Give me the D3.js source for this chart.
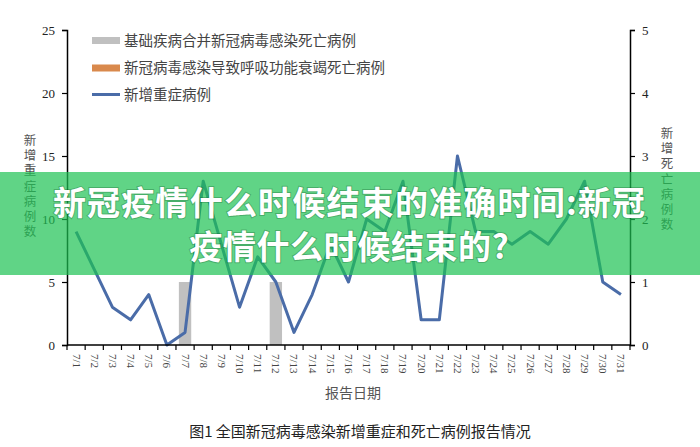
<!DOCTYPE html>
<html>
<head>
<meta charset="utf-8">
<script src="https://cdn.jsdelivr.net/npm/d3@7"></script>
<style>
html,body{margin:0;padding:0;background:#fff;}
svg{display:block;}
</style>
</head>
<body>
<svg id="chart" width="700" height="447"></svg>
<script>
const categories = ["7/1","7/2","7/3","7/4","7/5","7/6","7/7","7/8","7/9","7/10","7/11","7/12","7/13","7/14","7/15","7/16","7/17","7/18","7/19","7/20","7/21","7/22","7/23","7/24","7/25","7/26","7/27","7/28","7/29","7/30","7/31"];
const severeCases = [9,6,3,2,4,0,1,13,8,3,7,5,1,4,8,5,10,9,13,2,2,15,9,9,8,9,8,10,13,5,4];
const deathsUnderlying = [0,0,0,0,0,0,1,0,0,0,0,1,0,0,0,0,0,0,0,0,0,0,0,0,0,0,0,0,0,0,0];
const deathsRespiratory = [0,0,0,0,0,0,0,0,0,0,0,0,0,0,0,0,0,0,0,0,0,0,0,0,0,0,0,0,0,0,0];
const leftTicks = [0,5,10,15,20,25];
const rightTicks = [0,1,2,3,4,5];
const legendLabels = ["基础疾病合并新冠病毒感染死亡病例","新冠病毒感染导致呼吸功能衰竭死亡病例","新增重症病例"];
const leftAxisTitle = "新增重症病例数";
const rightAxisTitle = "新增死亡病例数";
const xAxisTitle = "报告日期";
const figureTitle = "图1 全国新冠病毒感染新增重症和死亡病例报告情况";
const bannerLines = ["新冠疫情什么时候结束的准确时间:新冠","疫情什么时候结束的?"];

const svg = d3.select("#chart");
const serif = "'Liberation Serif','DejaVu Serif',serif";
const cjk = "'Noto Sans CJK SC','Noto Sans',sans-serif";
const colGray = "#c0c0c0", colOrange = "#d9894c", colBlue = "#4a6ca8";

const x = d3.scaleBand().domain(categories).range([67,630]).padding(0);
const bw = x.bandwidth();
const yL = d3.scaleLinear().domain([0,25]).range([345,30]);
const yR = d3.scaleLinear().domain([0,5]).range([345,30]);

// bars (right axis)
svg.append("g").selectAll("rect").data(categories).join("rect")
  .attr("x", c => x(c) + bw*0.16).attr("width", bw*0.68)
  .attr("y", (c,i) => yR(deathsUnderlying[i]))
  .attr("height", (c,i) => yR(0) - yR(deathsUnderlying[i]))
  .attr("fill", colGray);
svg.append("g").selectAll("rect").data(categories).join("rect")
  .attr("x", c => x(c) + bw*0.16).attr("width", bw*0.68)
  .attr("y", (c,i) => yR(deathsUnderlying[i] + deathsRespiratory[i]))
  .attr("height", (c,i) => yR(0) - yR(deathsRespiratory[i]))
  .attr("fill", colOrange);

// line
const line = d3.line().x((d,i) => x(categories[i]) + bw/2).y(d => yL(d));
svg.append("path").datum(severeCases).attr("d", line)
  .attr("fill","none").attr("stroke", colBlue).attr("stroke-width", 3).attr("stroke-linejoin","round");

// left axis
const gL = svg.append("g").attr("transform","translate(67,0)")
  .call(d3.axisLeft(yL).tickValues(leftTicks).tickFormat(d3.format("d")).tickSize(5).tickPadding(7));
// right axis
const gR = svg.append("g").attr("transform","translate(630,0)")
  .call(d3.axisRight(yR).tickValues(rightTicks).tickFormat(d3.format("d")).tickSize(5).tickPadding(7));
// bottom axis (labels at band centers, ticks at band edges)
const gB = svg.append("g").attr("transform","translate(0,345)")
  .call(d3.axisBottom(x).tickSize(0).tickPadding(0));
gB.selectAll(".tick text")
  .attr("transform","rotate(90)").attr("text-anchor","start")
  .attr("x", 9).attr("y", 0).attr("dy","0.32em")
  .attr("fill","#444").style("font-size","11px");
gB.selectAll(".edge").data(categories.concat(["end"])).join("line")
  .attr("class","edge")
  .attr("x1", c => c === "end" ? x.range()[1] : x(c))
  .attr("x2", c => c === "end" ? x.range()[1] : x(c))
  .attr("y1", 0).attr("y2", 5).attr("stroke","#000").attr("stroke-width",1.2);

[gL,gR,gB].forEach(g => {
  g.selectAll(".domain").attr("stroke","#000").attr("stroke-width",1.5);
  g.selectAll(".tick line").attr("stroke","#000").attr("stroke-width",1.2);
  g.selectAll("text").style("font-family", serif);
});
gL.selectAll(".tick text").style("font-size","13px").attr("fill","#222");
gR.selectAll(".tick text").style("font-size","13px").attr("fill","#222");
gB.select(".domain").attr("d","M67,0H630");

// axis titles: vertical writing mode, single text each
function vertical(str, cx, yTop) {
  svg.append("text").attr("x", cx).attr("y", yTop)
    .attr("fill","#555")
    .style("writing-mode","vertical-rl").style("text-orientation","upright")
    .style("font-family", cjk).style("font-size","12.5px").style("letter-spacing","2.7px")
    .text(str);
}
vertical(leftAxisTitle, 30, 134);
vertical(rightAxisTitle, 667, 127);

svg.append("text").attr("x", 353).attr("y", 398).attr("text-anchor","middle")
  .attr("fill","#555").style("font-family", cjk).style("font-size","14px").text(xAxisTitle);
svg.append("text").attr("x", 360).attr("y", 437).attr("text-anchor","middle")
  .attr("fill","#222").style("font-family", cjk).style("font-size","15px").text(figureTitle);

// legend
const lg = svg.append("g");
const legendY = [40.5, 68, 94.5];
lg.append("rect").attr("x",92).attr("y",legendY[0]-3.5).attr("width",28).attr("height",7).attr("fill",colGray);
lg.append("rect").attr("x",92).attr("y",legendY[1]-3.5).attr("width",28).attr("height",7).attr("fill",colOrange);
lg.append("line").attr("x1",92).attr("x2",120).attr("y1",legendY[2]).attr("y2",legendY[2]).attr("stroke",colBlue).attr("stroke-width",3);
legendLabels.forEach((s,i) => lg.append("text").attr("x",124).attr("y",legendY[i]).attr("dy","0.36em")
  .attr("fill","#444").style("font-family", cjk).style("font-size","14.5px").text(s));

// overlay banner
svg.append("rect").attr("x",0).attr("y",172).attr("width",700).attr("height",103)
  .attr("fill","rgb(28,194,82)").attr("fill-opacity",0.7);
const bannerY = [203, 247];
const bannerSpacing = [1.2, 0.6];
bannerLines.forEach((s,i) => svg.append("text").attr("x",349 + bannerSpacing[i]/2).attr("y",bannerY[i]).attr("dy","0.36em")
  .attr("text-anchor","middle").attr("fill","#fff")
  .style("font-family", cjk).style("font-weight","bold").style("font-size","33px")
  .style("letter-spacing", bannerSpacing[i] + "px")
  .style("paint-order","stroke").attr("stroke","rgba(0,60,20,0.25)").attr("stroke-width",2)
  .text(s));
</script>
</body>
</html>
